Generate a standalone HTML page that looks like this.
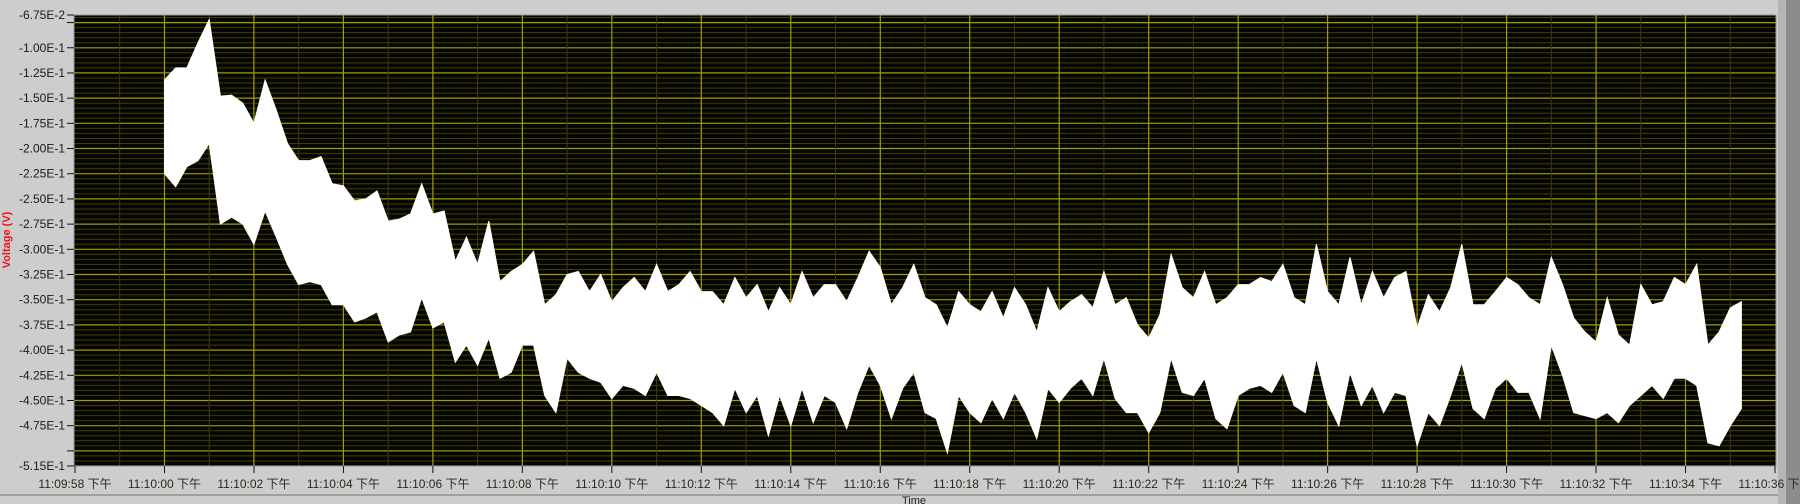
<!DOCTYPE html>
<html><head><meta charset="utf-8">
<style>
html,body{margin:0;padding:0;background:#cdcdcd;}
svg{display:block;font-family:"Liberation Sans","Noto Sans CJK SC",sans-serif;}
</style></head>
<body>
<svg id="chart" width="1800" height="504" viewBox="0 0 1800 504" xmlns="http://www.w3.org/2000/svg">
<rect x="0" y="0" width="1800" height="504" fill="#cdcdcd"/>
<rect x="1778" y="0" width="8" height="504" fill="#b4b4b4"/>
<rect x="1786" y="0" width="14" height="504" fill="#8c8c8c"/>
<rect x="0" y="494" width="1778" height="2" fill="#a0a0a0"/>
<rect x="74" y="15" width="1702" height="451" fill="#060600"/>
<g id="grid"></g>
<g id="series"></g>
<g id="yaxis"></g>
<g id="xaxis"></g>
<text x="10" y="240" transform="rotate(-90 10 240)" text-anchor="middle" font-size="11" font-weight="bold" fill="#e8141e">Voltage (V)</text>
<text x="914" y="504" text-anchor="middle" font-size="11" fill="#222">Time</text>
</svg>
<script>
// ---- data ----
const startSecond = 2;          // first sample, seconds after 11:09:58
const sampleStep = 0.25;        // seconds between samples
const upperEnvelope = [
-0.132,-0.120,-0.120,-0.095,-0.072,-0.148,-0.147,-0.155,-0.175,-0.132,-0.162,-0.195,-0.212,-0.212,-0.208,-0.235,-0.237,-0.252,-0.250,-0.242,-0.272,-0.270,-0.265,-0.235,-0.265,
-0.262,-0.312,-0.288,-0.315,-0.272,-0.332,-0.322,-0.315,-0.302,-0.355,-0.345,-0.325,-0.322,-0.342,-0.325,-0.352,-0.338,-0.328,-0.342,-0.315,-0.342,-0.335,-0.322,-0.342,
-0.342,-0.355,-0.328,-0.348,-0.335,-0.362,-0.338,-0.355,-0.322,-0.348,-0.335,-0.335,-0.352,-0.328,-0.302,-0.318,-0.355,-0.338,-0.315,-0.348,-0.355,-0.378,-0.342,-0.355,
-0.362,-0.342,-0.368,-0.338,-0.355,-0.382,-0.338,-0.362,-0.352,-0.345,-0.358,-0.322,-0.355,-0.348,-0.375,-0.388,-0.365,-0.305,-0.338,-0.348,-0.322,-0.355,-0.348,-0.335,
-0.335,-0.328,-0.332,-0.315,-0.348,-0.355,-0.295,-0.342,-0.355,-0.308,-0.355,-0.322,-0.348,-0.328,-0.322,-0.378,-0.345,-0.362,-0.338,-0.295,-0.355,-0.355,-0.342,-0.328,
-0.335,-0.348,-0.355,-0.308,-0.335,-0.368,-0.382,-0.392,-0.348,-0.385,-0.395,-0.335,-0.355,-0.352,-0.328,-0.335,-0.315,-0.395,-0.382,-0.358,-0.352
];
const lowerEnvelope = [
-0.225,-0.238,-0.218,-0.212,-0.195,-0.275,-0.268,-0.275,-0.295,-0.262,-0.288,-0.315,-0.335,-0.332,-0.335,-0.355,-0.355,-0.372,-0.368,-0.362,-0.392,-0.385,-0.382,-0.348,-0.378,
-0.372,-0.412,-0.395,-0.415,-0.388,-0.428,-0.422,-0.395,-0.395,-0.445,-0.462,-0.408,-0.422,-0.428,-0.432,-0.448,-0.435,-0.438,-0.445,-0.422,-0.445,-0.445,-0.448,-0.455,
-0.462,-0.475,-0.438,-0.462,-0.445,-0.485,-0.445,-0.475,-0.438,-0.472,-0.445,-0.452,-0.478,-0.442,-0.415,-0.435,-0.468,-0.438,-0.422,-0.462,-0.468,-0.502,-0.445,-0.462,
-0.472,-0.448,-0.468,-0.442,-0.462,-0.488,-0.438,-0.452,-0.438,-0.428,-0.445,-0.408,-0.448,-0.462,-0.462,-0.482,-0.462,-0.408,-0.442,-0.445,-0.428,-0.468,-0.478,-0.445,
-0.438,-0.435,-0.442,-0.422,-0.455,-0.462,-0.408,-0.452,-0.475,-0.422,-0.455,-0.435,-0.462,-0.442,-0.445,-0.495,-0.462,-0.475,-0.445,-0.412,-0.458,-0.468,-0.438,-0.428,
-0.442,-0.442,-0.468,-0.395,-0.425,-0.462,-0.465,-0.468,-0.462,-0.472,-0.455,-0.445,-0.435,-0.448,-0.428,-0.428,-0.435,-0.492,-0.495,-0.475,-0.458
];
const yTickValues = [-0.0675,-0.075,-0.1,-0.125,-0.15,-0.175,-0.2,-0.225,-0.25,-0.275,-0.3,-0.325,-0.35,-0.375,-0.4,-0.425,-0.45,-0.475,-0.5,-0.515];
const yTickLabels = ["-6.75E-2","","-1.00E-1","-1.25E-1","-1.50E-1","-1.75E-1","-2.00E-1","-2.25E-1","-2.50E-1","-2.75E-1","-3.00E-1","-3.25E-1","-3.50E-1","-3.75E-1","-4.00E-1","-4.25E-1","-4.50E-1","-4.75E-1","","-5.15E-1"];
const xTickSeconds = [0,2,4,6,8,10,12,14,16,18,20,22,24,26,28,30,32,34,36,38];
const xTickLabels = ["11:09:58 下午","11:10:00 下午","11:10:02 下午","11:10:04 下午","11:10:06 下午","11:10:08 下午","11:10:10 下午","11:10:12 下午","11:10:14 下午","11:10:16 下午","11:10:18 下午","11:10:20 下午","11:10:22 下午","11:10:24 下午","11:10:26 下午","11:10:28 下午","11:10:30 下午","11:10:32 下午","11:10:34 下午","11:10:36 下午"];

// ---- axes ----
const PL=74, PR=1776, PT=15, PB=466;
const yMax=-0.0675, yMin=-0.515, xMin=0, xMax=38;
function yPos(v){return PT+(yMax-v)/(yMax-yMin)*(PB-PT);}
function xPos(s){return 75+(s-xMin)/(xMax-xMin)*(1775-75);}
const NS="http://www.w3.org/2000/svg";
function mk(tag,attrs,parent){const e=document.createElementNS(NS,tag);for(const k in attrs)e.setAttribute(k,attrs[k]);parent.appendChild(e);return e;}

const grid=document.getElementById('grid');
// horizontal minor/major grid
for(let k=14;k<=102;k++){
  const v=-k*0.005; if(v<yMin||v>yMax) continue;
  const major=(k%5===0);
  const ln=mk('line',{x1:PL,x2:PR,y1:yPos(v).toFixed(1),y2:yPos(v).toFixed(1),stroke:major?'#a49c00':'#3e3c0e','stroke-width':major?1.2:1},grid);
  
  
}
for(let s=1;s<38;s++){
  const major=(s%2===0);
  const ln=mk('line',{x1:xPos(s).toFixed(1),x2:xPos(s).toFixed(1),y1:PT,y2:PB,stroke:major?'#a49c00':'#3e3c0e','stroke-width':major?1.2:1},grid);
  
  
}

// series band
const series=document.getElementById('series');
let d='';
for(let i=0;i<upperEnvelope.length;i++){const t=startSecond+i*sampleStep;d+=(i?'L':'M')+xPos(t).toFixed(1)+','+yPos(upperEnvelope[i]).toFixed(1);}
for(let i=lowerEnvelope.length-1;i>=0;i--){const t=startSecond+i*sampleStep;d+='L'+xPos(t).toFixed(1)+','+yPos(lowerEnvelope[i]).toFixed(1);}
d+='Z';
const band=mk('path',{d:d,fill:'#ffffff',stroke:'#ffffff','stroke-width':1},series);



// plot border
const brd=mk('rect',{x:PL,y:PT,width:PR-PL,height:PB-PT,fill:'none',stroke:'#9a9a9a','stroke-width':1},series);



// y axis
const ya=document.getElementById('yaxis');
yTickValues.forEach((v,i)=>{
  const y=yPos(v);
  const tk=mk('line',{x1:67,x2:PL,y1:y,y2:y,stroke:'#111','stroke-width':1},ya);
  
  
  if(yTickLabels[i]){
    const tx=mk('text',{x:65,y:y+4,'text-anchor':'end','font-size':12,fill:'#1a1a1a'},ya);
    tx.textContent=yTickLabels[i];
    
    
  }
});
// x axis
const xa=document.getElementById('xaxis');
xTickSeconds.forEach((s,i)=>{
  const x=xPos(s);
  const tk=mk('line',{x1:x,x2:x,y1:PB,y2:PB+7,stroke:'#111','stroke-width':1},xa);
  
  
  const tx=mk('text',{x:x,y:488,'text-anchor':'middle','font-size':12,fill:'#2a2a1a'},xa);
  tx.textContent=xTickLabels[i];
  
  
});
</script>
</body></html>
